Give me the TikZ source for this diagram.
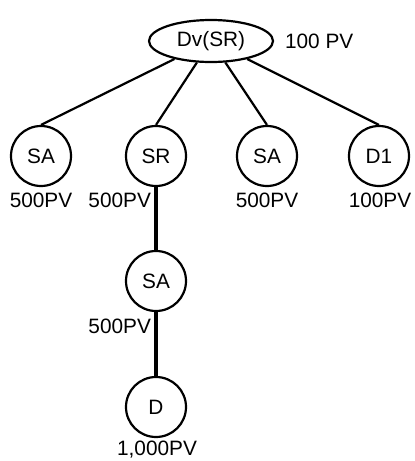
\documentclass[tikz,border=0pt]{standalone}
\usepackage{fontspec}
\setmainfont{Liberation Sans}
\usetikzlibrary{positioning,shapes.geometric}
\tikzset{
  member/.style={circle,draw,line width=1.1pt,minimum size=30pt,inner sep=0pt},
  sponsor/.style={ellipse,draw,line width=1.1pt,minimum width=62pt,minimum height=21pt,inner sep=0pt},
  pv/.style={inner sep=0pt},
  downline/.style={line width=1.6pt}
}
\begin{document}
\begin{tikzpicture}[x=0.5pt,y=-0.5pt,line width=1.1pt,font=\fontsize{10.4}{12}\selectfont]
  \useasboundingbox (0,0) rectangle (415,461);
  \node[sponsor] (dv) at (211,41) {Dv(SR)};
  \node[pv,anchor=west] (dvpv) at (284,41) {100 PV};
  \node[member] (sa1) at (41,156) {SA};
  \node[member] (sr) at (156,156) {SR};
  \node[member] (sa2) at (267,156) {SA};
  \node[member] (d1) at (379,156) {D1};
  \node[member] (sa3) at (156,281) {SA};
  \node[member] (d) at (156,407) {D};
  \node[pv] (sa1pv) at (41,200) {500PV};
  \node[pv,anchor=east] (srpv) at (152,200) {500PV};
  \node[pv] (sa2pv) at (267,200) {500PV};
  \node[pv] (d1pv) at (380,200) {100PV};
  \node[pv,anchor=east] (sa3pv) at (152,326) {500PV};
  \node[pv] (dpv) at (157,450) {1,000PV};
  \draw (dv) -- (sa1.north);
  \draw (dv) -- (sr.north);
  \draw (dv) -- (sa2.north);
  \draw (dv) -- (d1.north);
  \draw[downline] (sr) -- (sa3);
  \draw[downline] (sa3) -- (d);
\end{tikzpicture}
\end{document}
